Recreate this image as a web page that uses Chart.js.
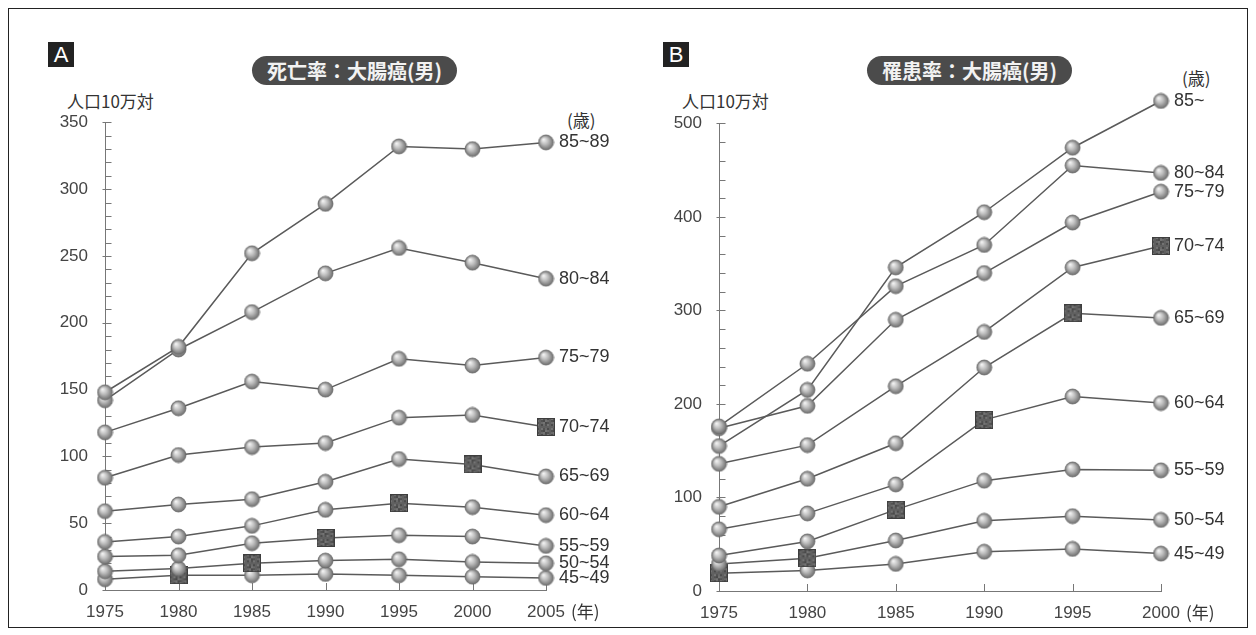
<!DOCTYPE html>
<html>
<head>
<meta charset="utf-8">
<script src="https://cdn.jsdelivr.net/npm/chart.js@4.4.1/dist/chart.umd.min.js"></script>
<style>
  body { margin:0; background:#fff; width:1256px; height:635px; position:relative; overflow:hidden;
         font-family:"Liberation Sans","Noto Sans CJK JP",sans-serif; color:#333; }
  .frame { position:absolute; left:8px; top:8px; width:1238px; height:618px; border:1.5px solid #222; }
  .panel { position:absolute; top:0; width:628px; height:635px; }
  .tag { position:absolute; width:26px; height:25px; background:#222; color:#fff; font-size:22px;
         line-height:25px; text-align:center; }
  .pill { position:absolute; height:29px; border-radius:15px; background:#4b4b4b; color:#f2f2f2;
          font:bold 20px "Noto Sans CJK JP",sans-serif; line-height:29px; text-align:center; }
  .unit { position:absolute; font:17px "Noto Sans CJK JP",sans-serif; color:#333; }
</style>
</head>
<body>
<div class="frame"></div>

<div class="tag" style="left:48px;top:42px">A</div>
<div class="pill" style="left:252px;top:56px;width:205px">死亡率：大腸癌(男)</div>
<div class="unit" style="left:67px;top:88px">人口10万対</div>
<div class="unit" style="left:567px;top:107px">(歳)</div>

<div class="tag" style="left:663px;top:42px">B</div>
<div class="pill" style="left:867px;top:56px;width:205px">罹患率：大腸癌(男)</div>
<div class="unit" style="left:682px;top:88px">人口10万対</div>
<div class="unit" style="left:1182px;top:65px">(歳)</div>

<div class="panel" style="left:0"><canvas id="chartA" width="628" height="635"></canvas></div>
<div class="panel" style="left:628px"><canvas id="chartB" width="628" height="635"></canvas></div>

<script>
// ---- panel A: 死亡率 ----
const yearsA = ['1975','1980','1985','1990','1995','2000','2005'];
const groupsA = ['85~89','80~84','75~79','70~74','65~69','60~64','55~59','50~54','45~49'];
const a85 = [148, 182, 252, 289, 332, 330, 335];
const a80 = [142, 180, 208, 237, 256, 245, 233];
const a75 = [118, 136, 156, 150, 173, 168, 174];
const a70 = [84, 101, 107, 110, 129, 131, 122];
const a65 = [59, 64, 68, 81, 98, 94, 85];
const a60 = [36, 40, 48, 60, 65, 62, 56];
const a55 = [25, 26, 35, 39, 41, 40, 33];
const a50 = [14, 16, 20, 22, 23, 21, 20];
const a45 = [8, 11, 11, 12, 11, 10, 9];
// index of the square marker in each series (-1 = none)
const cohortA = [-1, -1, -1, 6, 5, 4, 3, 2, 1];
// axis drawn up to max, scale room up to top
const yTicksA = { max: 350, top: 360, step: 10, major: 50 };

// ---- panel B: 罹患率 ----
const yearsB = ['1975','1980','1985','1990','1995','2000'];
const groupsB = ['85~','80~84','75~79','70~74','65~69','60~64','55~59','50~54','45~49'];
const b85 = [155, 215, 346, 405, 474, 524];
const b80 = [176, 243, 326, 370, 455, 447];
const b75 = [174, 198, 290, 340, 394, 427];
const b70 = [136, 156, 219, 277, 346, 369];
const b65 = [90, 120, 158, 239, 297, 292];
const b60 = [66, 83, 114, 183, 208, 201];
const b55 = [38, 53, 87, 118, 130, 129];
const b50 = [29, 35, 54, 75, 80, 76];
const b45 = [19, 22, 29, 42, 45, 40];
const cohortB = [-1, -1, -1, 5, 4, 3, 2, 1, 0];
const yTicksB = { max: 500, top: 540, step: 20, major: 100 };

const FONT = '"Liberation Sans","Noto Sans CJK JP",sans-serif';
Chart.defaults.font.family = FONT;
Chart.defaults.color = '#444';

// shaded ball marker
function makeBall(d) {
  const c = document.createElement('canvas');
  c.width = c.height = d + 2;
  const g = c.getContext('2d');
  const r = d / 2, cx = c.width / 2, cy = c.height / 2;
  const grad = g.createRadialGradient(cx - r * 0.35, cy - r * 0.4, 0.5, cx, cy, r);
  grad.addColorStop(0, '#f2f2f2');
  grad.addColorStop(0.45, '#bdbdbd');
  grad.addColorStop(1, '#6e6e6e');
  g.fillStyle = grad;
  g.beginPath(); g.arc(cx, cy, r, 0, Math.PI * 2); g.fill();
  g.strokeStyle = '#6a6a6a'; g.lineWidth = 0.8; g.stroke();
  return c;
}

// dark grainy square marker
function makeSquare(s) {
  const c = document.createElement('canvas');
  c.width = c.height = s;
  const g = c.getContext('2d');
  g.fillStyle = '#585858';
  g.fillRect(0, 0, s, s);
  const shades = ['#4a4a4a', '#6a6a6a', '#525252', '#747474', '#606060'];
  for (let i = 0; i < s; i += 2) {
    for (let j = 0; j < s; j += 2) {
      g.fillStyle = shades[(i * 7 + j * 13 + i * j) % 5];
      g.fillRect(i, j, 2, 2);
    }
  }
  g.strokeStyle = '#3e3e3e'; g.lineWidth = 1;
  g.strokeRect(0.5, 0.5, s - 1, s - 1);
  return c;
}

const ball = makeBall(15);
const square = makeSquare(18);

// y axis line, inward tick marks, age labels at line ends, (年)
const decorPlugin = {
  id: 'decor',
  beforeDatasetsDraw(chart) {
    const ctx = chart.ctx;
    const xs = chart.scales.x, ys = chart.scales.y;
    const opt = chart.options.plugins.decor;
    const ax = Math.round(ys.right) + 0.5;
    ctx.save();
    ctx.strokeStyle = '#777';
    ctx.lineWidth = 1;
    ctx.beginPath();
    ctx.moveTo(ax, ys.getPixelForValue(0));
    ctx.lineTo(ax, ys.getPixelForValue(opt.max));
    ctx.stroke();
    ys.ticks.forEach(t => {
      const y = Math.round(ys.getPixelForValue(t.value)) + 0.5;
      const isMajor = t.value % opt.major === 0;
      ctx.beginPath();
      ctx.moveTo(ax - (isMajor ? 3 : 0), y);
      ctx.lineTo(ax + 6, y);
      ctx.stroke();
    });
    xs.ticks.forEach((t, i) => {
      if (i === 0) return;
      const x = Math.round(xs.getPixelForTick(i)) + 0.5;
      ctx.beginPath();
      ctx.moveTo(x, xs.top);
      ctx.lineTo(x, xs.top - 7);
      ctx.stroke();
    });
    ctx.restore();
  },
  afterDraw(chart) {
    const ctx = chart.ctx;
    const xs = chart.scales.x;
    ctx.save();
    ctx.fillStyle = '#333';
    ctx.font = '18px ' + FONT;
    ctx.textBaseline = 'middle';
    ctx.textAlign = 'left';
    chart.data.datasets.forEach((ds, i) => {
      const pts = chart.getDatasetMeta(i).data;
      const p = pts[pts.length - 1];
      ctx.fillText(ds.label, p.x + 13, p.y);
    });
    const lastX = xs.getPixelForTick(xs.ticks.length - 1);
    ctx.font = '17px "Noto Sans CJK JP",sans-serif';
    ctx.fillText('(年)', lastX + 25, xs.top + 22);
    ctx.restore();
  }
};

function build(id, years, groups, series, cohort, yt, pad, yWidth, xHeight) {
  return new Chart(document.getElementById(id), {
    type: 'line',
    data: {
      labels: years,
      datasets: series.map((vals, i) => ({
        label: groups[i],
        data: vals,
        borderColor: '#5a5a5a',
        borderWidth: 1.5,
        tension: 0,
        clip: false,
        pointStyle: c => (c.dataIndex === cohort[i] ? square : ball),
        pointRadius: 8,
      })),
    },
    options: {
      responsive: false,
      animation: false,
      events: [],
      layout: { padding: pad },
      plugins: {
        legend: { display: false },
        tooltip: { enabled: false },
        decor: { major: yt.major, max: yt.max },
      },
      scales: {
        x: {
          type: 'category',
          offset: false,
          grid: { display: false },
          border: { display: true, color: '#777', width: 1 },
          ticks: { padding: 4, color: '#444', font: { size: 17 }, maxRotation: 0 },
          afterFit: s => { s.height = xHeight; },
        },
        y: {
          min: 0,
          max: yt.top,
          grid: { display: false },
          border: { display: false },
          afterBuildTicks: s => { s.ticks = s.ticks.filter(t => t.value <= yt.max); },
          ticks: {
            stepSize: yt.step,
            autoSkip: false,
            padding: 9,
            color: '#444',
            font: { size: 17 },
            callback: v => (v % yt.major === 0 ? v : ''),
          },
          afterFit: s => { s.width = yWidth; },
        },
      },
    },
    plugins: [decorPlugin],
  });
}

// top padding keeps the max tick at y=122/123 while leaving room above it
build('chartA', yearsA, groupsA, [a85, a80, a75, a70, a65, a60, a55, a50, a45], cohortA, yTicksA,
      { left: 0, top: 109, right: 82, bottom: 0 }, 105, 45);
build('chartB', yearsB, groupsB, [b85, b80, b75, b70, b65, b60, b55, b50, b45], cohortB, yTicksB,
      { left: 0, top: 86, right: 95, bottom: 0 }, 91, 44);
</script>
</body>
</html>
